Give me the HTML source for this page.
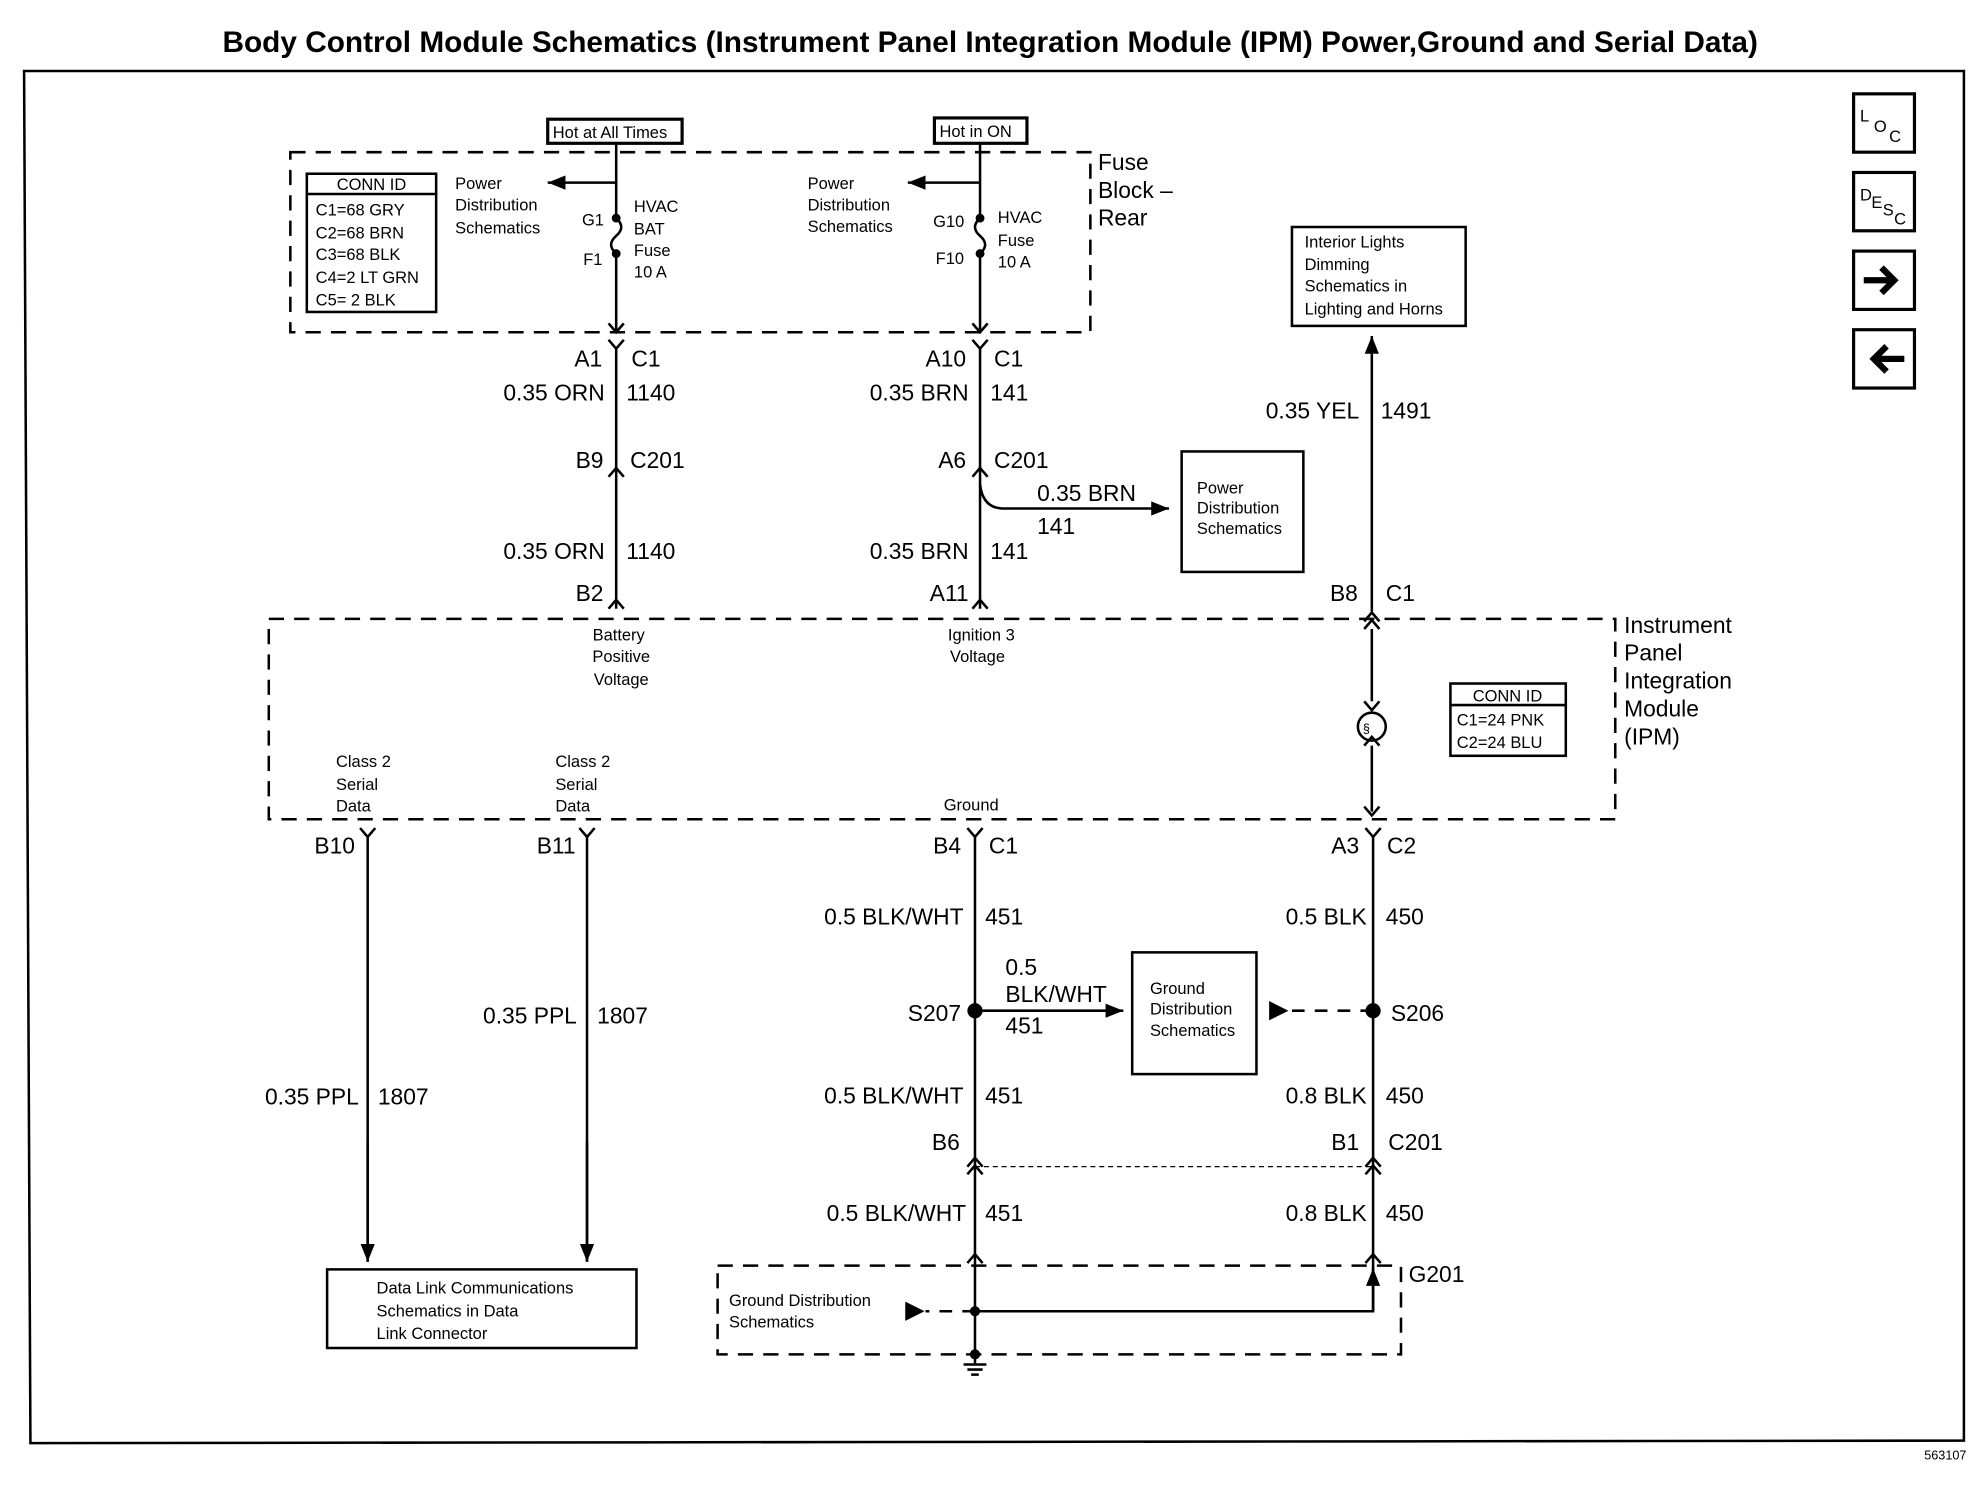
<!DOCTYPE html>
<html><head><meta charset="utf-8"><style>
html,body{margin:0;padding:0;background:#fff;}
svg{display:block;}
text{font-family:"Liberation Sans",Arial,sans-serif;fill:#000;}
.s{font-size:13px;}
.m{font-size:18px;}
.l{font-size:19px;}
</style></head><body>
<svg width="1988" height="1504" viewBox="0 0 1568 1186" preserveAspectRatio="none" xmlns="http://www.w3.org/2000/svg">
<defs>
<marker id="ar" viewBox="0 0 10 10" refX="10" refY="5" markerWidth="7" markerHeight="7" orient="auto"><path d="M0,1 L10,5 L0,9 z" fill="#000"/></marker>
</defs>
<g stroke="#000" fill="none" stroke-width="2">
<text x="781" y="41" text-anchor="middle" style="font-size:23.5px;font-weight:bold" stroke="none">Body Control Module Schematics (Instrument Panel Integration Module (IPM) Power,Ground and Serial Data)</text>
<path d="M19,56 L1549,56 L1549,1136 L24,1138 Z"/>
<rect x="1462" y="74" width="48" height="46" stroke-width="2.5"/>
<rect x="1462" y="136" width="48" height="46" stroke-width="2.5"/>
<rect x="1462" y="198" width="48" height="46" stroke-width="2.5"/>
<rect x="1462" y="260" width="48" height="46" stroke-width="2.5"/>
<path d="M1470,221 h22 M1484,211 l10,10 l-10,10" stroke-width="5"/>
<path d="M1502,283 h-22 M1488,273 l-10,10 l10,10" stroke-width="5"/>
<rect x="229" y="120" width="631" height="142" stroke-dasharray="12,8"/>
<rect x="242" y="137" width="102" height="109"/>
<line x1="242" y1="153" x2="344" y2="153"/>
<rect x="432" y="94" width="106" height="19" stroke-width="2.5"/>
<rect x="737" y="93" width="73" height="20" stroke-width="2.5"/>
<path d="M486,113 V172 M486,200 V262"/>
<path d="M486,172 q8,7 0,14 q-8,7 0,14" />
<circle cx="486" cy="172" r="2.5" fill="#000"/><circle cx="486" cy="200" r="2.5" fill="#000"/>
<path d="M486,144 H432" marker-end="url(#ar)"/>
<path d="M480,255 l6,7 l6,-7"/>
<path d="M480,268 l6,7 l6,-7 M486,275 V480"/>
<path d="M480,376 l6,-7 l6,7"/>
<path d="M480,480 l6,-7 l6,7"/>
<path d="M773,113 V172 M773,200 V262"/>
<path d="M773,172 q-8,7 0,14 q8,7 0,14"/>
<circle cx="773" cy="172" r="2.5" fill="#000"/><circle cx="773" cy="200" r="2.5" fill="#000"/>
<path d="M773,144 H716" marker-end="url(#ar)"/>
<path d="M767,255 l6,7 l6,-7"/>
<path d="M767,268 l6,7 l6,-7 M773,275 V480"/>
<path d="M767,376 l6,-7 l6,7"/>
<path d="M767,480 l6,-7 l6,7"/>
<path d="M773,382 Q775,400 790,401 H922" marker-end="url(#ar)"/>
<rect x="932" y="356" width="96" height="95"/>
<rect x="1019" y="179" width="137" height="78"/>
<path d="M1082,482 V265" marker-end="url(#ar)"/>
<path d="M1076,490 l6,-7 l6,7 M1076,496 l6,-7 l6,7 M1082,496 V553"/>
<path d="M1076,553 l6,7 l6,-7"/>
<circle cx="1082" cy="573" r="11"/>
<path d="M1076,588 l6,-7 l6,7 M1082,588 V640"/>
<path d="M1076,636 l6,7 l6,-7"/>
<rect x="1144" y="539" width="91" height="57"/>
<line x1="1144" y1="556" x2="1235" y2="556"/>
<rect x="212" y="488" width="1062" height="158" stroke-dasharray="12,8"/>
<path d="M284,653 l6,7 l6,-7 M290,660 V995" /><path d="M290,900 V995" marker-end="url(#ar)"/>
<path d="M457,653 l6,7 l6,-7 M463,660 V995"/><path d="M463,900 V995" marker-end="url(#ar)"/>
<rect x="258" y="1001" width="244" height="62"/>
<path d="M763,653 l6,7 l6,-7 M769,660 V1075"/>
<path d="M1077,653 l6,7 l6,-7 M1083,660 V1033"/>
<circle cx="769" cy="797" r="5" fill="#000"/>
<circle cx="1083" cy="797" r="5" fill="#000"/>
<path d="M769,797 H886" marker-end="url(#ar)"/>
<rect x="893" y="751" width="98" height="96"/>
<path d="M1083,797 H1015" stroke-dasharray="10,8"/>
<path d="M1002,791 L1014,797 L1002,803 z" fill="#000"/>
<path d="M763,920 l6,-7 l6,7 M763,926 l6,-7 l6,7"/>
<path d="M1077,920 l6,-7 l6,7 M1077,926 l6,-7 l6,7"/>
<path d="M769,920 H1083" stroke-width="1" stroke-dasharray="4,3"/>
<path d="M763,996 l6,-7 l6,7"/>
<path d="M1077,996 l6,-7 l6,7"/>
<rect x="566" y="998" width="539" height="70" stroke-dasharray="12,8"/>
<path d="M769,1034 H1083 V1000" marker-end="url(#ar)"/>
<path d="M769,1034 H730" stroke-dasharray="10,8"/>
<path d="M715,1028 L727,1034 L715,1040 z" fill="#000"/>
<circle cx="769" cy="1034" r="3" fill="#000"/>
<circle cx="769" cy="1068" r="3" fill="#000"/>
<path d="M760,1076 h18 M763,1080 h12 M766,1084 h6"/>
</g>
<g stroke="none">
<text x="866" y="134" class="m">Fuse</text>
<text x="866" y="156" class="m">Block –</text>
<text x="866" y="178" class="m">Rear</text>
<text x="293" y="150" class="s" text-anchor="middle">CONN ID</text>
<text x="249" y="170" class="s">C1=68 GRY</text>
<text x="249" y="188" class="s">C2=68 BRN</text>
<text x="249" y="205" class="s">C3=68 BLK</text>
<text x="249" y="223" class="s">C4=2 LT GRN</text>
<text x="249" y="241" class="s">C5= 2 BLK</text>
<text x="436" y="109" class="s">Hot at All Times</text>
<text x="741" y="108" class="s">Hot in ON</text>
<text x="359" y="149" class="s">Power</text>
<text x="359" y="166" class="s">Distribution</text>
<text x="359" y="184" class="s">Schematics</text>
<text x="459" y="178" class="s">G1</text>
<text x="460" y="209" class="s">F1</text>
<text x="500" y="167" class="s">HVAC</text>
<text x="500" y="185" class="s">BAT</text>
<text x="500" y="202" class="s">Fuse</text>
<text x="500" y="219" class="s">10 A</text>
<text x="637" y="149" class="s">Power</text>
<text x="637" y="166" class="s">Distribution</text>
<text x="637" y="183" class="s">Schematics</text>
<text x="736" y="179" class="s">G10</text>
<text x="738" y="208" class="s">F10</text>
<text x="787" y="176" class="s">HVAC</text>
<text x="787" y="194" class="s">Fuse</text>
<text x="787" y="211" class="s">10 A</text>
<text x="1029" y="195" class="s">Interior Lights</text>
<text x="1029" y="213" class="s">Dimming</text>
<text x="1029" y="230" class="s">Schematics in</text>
<text x="1029" y="248" class="s">Lighting and Horns</text>
<text x="475" y="289" class="m" text-anchor="end">A1</text><text x="498" y="289" class="m">C1</text>
<text x="477" y="316" class="m" text-anchor="end">0.35 ORN</text><text x="494" y="316" class="m">1140</text>
<text x="476" y="369" class="m" text-anchor="end">B9</text><text x="497" y="369" class="m">C201</text>
<text x="477" y="441" class="m" text-anchor="end">0.35 ORN</text><text x="494" y="441" class="m">1140</text>
<text x="476" y="474" class="m" text-anchor="end">B2</text>
<text x="762" y="289" class="m" text-anchor="end">A10</text><text x="784" y="289" class="m">C1</text>
<text x="764" y="316" class="m" text-anchor="end">0.35 BRN</text><text x="781" y="316" class="m">141</text>
<text x="762" y="369" class="m" text-anchor="end">A6</text><text x="784" y="369" class="m">C201</text>
<text x="818" y="395" class="m">0.35 BRN</text>
<text x="818" y="421" class="m">141</text>
<text x="944" y="389" class="s">Power</text>
<text x="944" y="405" class="s">Distribution</text>
<text x="944" y="421" class="s">Schematics</text>
<text x="764" y="441" class="m" text-anchor="end">0.35 BRN</text><text x="781" y="441" class="m">141</text>
<text x="764" y="474" class="m" text-anchor="end">A11</text>
<text x="1072" y="330" class="m" text-anchor="end">0.35 YEL</text><text x="1089" y="330" class="m">1491</text>
<text x="1071" y="474" class="m" text-anchor="end">B8</text><text x="1093" y="474" class="m">C1</text>
<text x="1281" y="499" class="m">Instrument</text>
<text x="1281" y="521" class="m">Panel</text>
<text x="1281" y="543" class="m">Integration</text>
<text x="1281" y="565" class="m">Module</text>
<text x="1281" y="587" class="m">(IPM)</text>
<text x="1189" y="553" class="s" text-anchor="middle">CONN ID</text>
<text x="1149" y="572" class="s">C1=24 PNK</text>
<text x="1149" y="590" class="s">C2=24 BLU</text>
<text x="488" y="505" class="s" text-anchor="middle">Battery</text>
<text x="490" y="522" class="s" text-anchor="middle">Positive</text>
<text x="490" y="540" class="s" text-anchor="middle">Voltage</text>
<text x="774" y="505" class="s" text-anchor="middle">Ignition 3</text>
<text x="771" y="522" class="s" text-anchor="middle">Voltage</text>
<text x="265" y="605" class="s">Class 2</text><text x="265" y="623" class="s">Serial</text><text x="265" y="640" class="s">Data</text>
<text x="438" y="605" class="s">Class 2</text><text x="438" y="623" class="s">Serial</text><text x="438" y="640" class="s">Data</text>
<text x="766" y="639" class="s" text-anchor="middle">Ground</text>
<text x="280" y="673" class="m" text-anchor="end">B10</text>
<text x="454" y="673" class="m" text-anchor="end">B11</text>
<text x="758" y="673" class="m" text-anchor="end">B4</text><text x="780" y="673" class="m">C1</text>
<text x="1072" y="673" class="m" text-anchor="end">A3</text><text x="1094" y="673" class="m">C2</text>
<text x="760" y="729" class="m" text-anchor="end">0.5 BLK/WHT</text><text x="777" y="729" class="m">451</text>
<text x="1078" y="729" class="m" text-anchor="end">0.5 BLK</text><text x="1093" y="729" class="m">450</text>
<text x="793" y="769" class="m">0.5</text>
<text x="793" y="790" class="m">BLK/WHT</text>
<text x="793" y="815" class="m">451</text>
<text x="907" y="784" class="s">Ground</text>
<text x="907" y="800" class="s">Distribution</text>
<text x="907" y="817" class="s">Schematics</text>
<text x="758" y="805" class="m" text-anchor="end">S207</text>
<text x="1097" y="805" class="m">S206</text>
<text x="455" y="807" class="m" text-anchor="end">0.35 PPL</text><text x="471" y="807" class="m">1807</text>
<text x="283" y="871" class="m" text-anchor="end">0.35 PPL</text><text x="298" y="871" class="m">1807</text>
<text x="760" y="870" class="m" text-anchor="end">0.5 BLK/WHT</text><text x="777" y="870" class="m">451</text>
<text x="1078" y="870" class="m" text-anchor="end">0.8 BLK</text><text x="1093" y="870" class="m">450</text>
<text x="757" y="907" class="m" text-anchor="end">B6</text>
<text x="1072" y="907" class="m" text-anchor="end">B1</text><text x="1095" y="907" class="m">C201</text>
<text x="762" y="963" class="m" text-anchor="end">0.5 BLK/WHT</text><text x="777" y="963" class="m">451</text>
<text x="1078" y="963" class="m" text-anchor="end">0.8 BLK</text><text x="1093" y="963" class="m">450</text>
<text x="1111" y="1011" class="m">G201</text>
<text x="297" y="1020" class="s">Data Link Communications</text>
<text x="297" y="1038" class="s">Schematics in Data</text>
<text x="297" y="1056" class="s">Link Connector</text>
<text x="575" y="1030" class="s">Ground Distribution</text>
<text x="575" y="1047" class="s">Schematics</text>
<text x="1551" y="1151" text-anchor="end" style="font-size:10px">563107</text>
<text x="1467" y="96" style="font-size:13px">L</text><text x="1478" y="104" style="font-size:13px">O</text><text x="1490" y="112" style="font-size:13px">C</text>
<text x="1467" y="158" style="font-size:13px">D</text><text x="1476" y="164" style="font-size:13px">E</text><text x="1485" y="170" style="font-size:13px">S</text><text x="1494" y="177" style="font-size:13px">C</text>
<text x="1075" y="578" style="font-size:10px">§</text>
</g>
</svg>
</body></html>
